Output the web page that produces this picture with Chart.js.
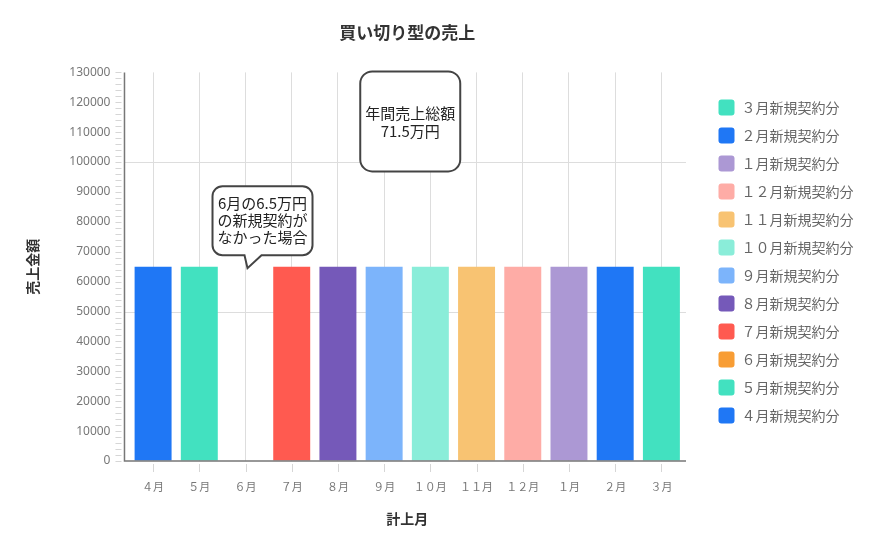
<!DOCTYPE html>
<html>
<head>
<meta charset="utf-8">
<script src="https://cdn.jsdelivr.net/npm/chart.js@4.4.1/dist/chart.umd.min.js"></script>
<style>
  html, body { margin: 0; padding: 0; background: #fff; }
  #wrap { width: 885px; height: 549px; }
</style>
</head>
<body>
<div id="wrap"><canvas id="salesChart"></canvas></div>
<script>
// data
const months = ["４月", "５月", "６月", "７月", "８月", "９月", "１０月", "１１月", "１２月", "１月", "２月", "３月"];
const sales = [65000, 65000, 0, 65000, 65000, 65000, 65000, 65000, 65000, 65000, 65000, 65000];
const seriesNames = months.map(m => m + "新規契約分");
const colors = ["#1f77f5", "#42e1c0", "#f89d34", "#ff5a50", "#7559b9", "#7cb4fb",
                "#8aedd9", "#f8c372", "#feaca6", "#ac98d4", "#1f77f5", "#42e1c0"];
const yTickStep = 2000;
const yLabelStep = 10000;
const yGridStep = 50000;

const FONT = "'Noto Sans', 'Noto Sans CJK JP', sans-serif";
const CJK = "'Noto Sans CJK JP', 'Noto Sans', sans-serif";
const AXIS_GAP = 5.5;   // y axis line sits a little left of the first slot

// one dataset per month, stacked so each bar fills its own slot
const datasets = months.map((m, i) => ({
  label: seriesNames[i],
  data: months.map((_, j) => (j === i ? sales[i] : null)),
  backgroundColor: colors[i],
  borderWidth: 0,
  barPercentage: 0.8,
  categoryPercentage: 1.0
}));

// axis lines + small tick marks drawn a few px away from the axes
const axisDecor = {
  id: "axisDecor",
  beforeDatasetsDraw(chart) {
    const { ctx, chartArea: a, scales: { y } } = chart;
    const x0 = a.left - AXIS_GAP;
    ctx.save();
    // stretch the visible grid lines to the shifted y axis
    ctx.strokeStyle = "#dddddd";
    ctx.lineWidth = 1;
    y.ticks.forEach(t => {
      if (t.value % yGridStep !== 0 || t.value === 0) return;
      const py = Math.round(y.getPixelForValue(t.value)) + 0.5;
      ctx.beginPath();
      ctx.moveTo(x0, py);
      ctx.lineTo(a.right + 1.5, py);
      ctx.stroke();
    });
    ctx.restore();
  },
  afterDraw(chart) {
    const { ctx, chartArea: a, scales: { x, y } } = chart;
    const x0 = a.left - AXIS_GAP;
    ctx.save();
    ctx.strokeStyle = "#777";
    ctx.lineWidth = 1.5;
    ctx.beginPath();
    ctx.moveTo(x0, a.top);
    ctx.lineTo(x0, a.bottom);
    ctx.lineTo(a.right + 1.5, a.bottom);
    ctx.stroke();

    ctx.strokeStyle = "#d6d6d6";
    ctx.lineWidth = 1;
    y.ticks.forEach(t => {
      const py = Math.round(y.getPixelForValue(t.value)) + 0.5;
      ctx.beginPath();
      ctx.moveTo(x0 - 9, py);
      ctx.lineTo(x0 - 3, py);
      ctx.stroke();
    });
    x.ticks.forEach((t, i) => {
      const px = Math.round(x.getPixelForTick(i)) + 0.5;
      ctx.beginPath();
      ctx.moveTo(px, a.bottom + 3);
      ctx.lineTo(px, a.bottom + 11);
      ctx.stroke();
    });
    ctx.restore();
  }
};

function roundBox(ctx, l, t, r, b, rad, tail) {
  ctx.beginPath();
  ctx.moveTo(l + rad, t);
  ctx.lineTo(r - rad, t);
  ctx.arcTo(r, t, r, t + rad, rad);
  ctx.lineTo(r, b - rad);
  ctx.arcTo(r, b, r - rad, b, rad);
  if (tail) {
    ctx.lineTo(tail.right, b);
    ctx.lineTo(tail.tipX, tail.tipY);
    ctx.lineTo(tail.left, b);
  }
  ctx.lineTo(l + rad, b);
  ctx.arcTo(l, b, l, b - rad, rad);
  ctx.lineTo(l, t + rad);
  ctx.arcTo(l, t, l + rad, t, rad);
  ctx.closePath();
  ctx.fillStyle = "#fff";
  ctx.fill();
  ctx.strokeStyle = "#444";
  ctx.lineWidth = 2;
  ctx.stroke();
}

function boxText(ctx, lines, cx, cy, lh) {
  ctx.fillStyle = "#222";
  ctx.font = "15px " + CJK;
  ctx.textAlign = "center";
  ctx.textBaseline = "middle";
  const y0 = cy - (lines.length - 1) * lh / 2;
  lines.forEach((s, i) => ctx.fillText(s, cx, y0 + i * lh));
}

// speech bubbles
const bubbles = {
  id: "bubbles",
  afterDatasetsDraw(chart) {
    const { ctx, scales: { x, y } } = chart;
    ctx.save();

    // missing June bubble, pointing at the empty slot
    const tipX = x.getPixelForTick(2) + 2;
    const tipY = y.getPixelForValue(64500);
    const b1 = { l: tipX - 35, r: tipX + 65, t: tipY - 82, b: tipY - 13 };
    roundBox(ctx, b1.l, b1.t, b1.r, b1.b, 10, { left: tipX - 3, right: tipX + 14, tipX: tipX, tipY: tipY });
    boxText(ctx, ["6月の6.5万円", "の新規契約が", "なかった場合"], (b1.l + b1.r) / 2, (b1.t + b1.b) / 2, 17);

    // annual total
    const cx = (x.getPixelForTick(5) + x.getPixelForTick(6)) / 2 + 3;
    const top = y.getPixelForValue(130000) - 1;
    roundBox(ctx, cx - 50, top, cx + 50, top + 100, 12, null);
    boxText(ctx, ["年間売上総額", "71.5万円"], cx, top + 51, 18);

    ctx.restore();
  }
};

// push legend items away from the plot a bit
const legendGap = {
  id: "legendGap",
  afterInit(chart) {
    const lg = chart.legend;
    const fit = lg.fit;
    lg.fit = function () { fit.call(this); this.width += 22; };
  },
  afterLayout(chart) {
    const lg = chart.legend;
    lg.left += 22;
    lg.right += 22;
    lg.top -= 6;
    lg.bottom -= 6;
  }
};

const ctx = document.getElementById("salesChart").getContext("2d");

new Chart(ctx, {
  type: "bar",
  data: { labels: months, datasets: datasets },
  plugins: [axisDecor, bubbles, legendGap],
  options: {
    responsive: true,
    maintainAspectRatio: false,
    animation: false,
    layout: { padding: { left: 0, right: 21.5, top: 0, bottom: 14 } },
    scales: {
      x: {
        stacked: true,
        grid: { offset: false, color: "#dddddd", drawTicks: false },
        border: { display: false },
        ticks: { color: "#777", font: { family: CJK, size: 11 }, padding: 19, maxRotation: 0, minRotation: 0 },
        title: { display: true, text: "計上月", color: "#333",
                 font: { family: CJK, size: 14, weight: "bold" }, padding: { top: 18, bottom: 8 } },
        afterFit: s => { s.height -= 20; }
      },
      y: {
        stacked: true,
        min: 0,
        max: 130000,
        grid: { drawTicks: false, color: "rgba(0,0,0,0)" },
        border: { display: false },
        ticks: {
          stepSize: yTickStep,
          autoSkip: false,
          maxTicksLimit: 1000,
          color: "#777",
          padding: 19.5,
          font: { family: FONT, size: 12 },
          callback: v => (v % yLabelStep === 0 ? String(v) : "")
        },
        title: { display: true, text: "売上金額", color: "#333",
                 font: { family: CJK, size: 14, weight: "bold" }, padding: { top: 24, bottom: 9 } }
      }
    },
    plugins: {
      title: {
        display: true,
        fullSize: false,
        text: "買い切り型の売上",
        color: "#333",
        font: { family: CJK, size: 17, weight: "bold" },
        padding: { top: 22, bottom: 30 }
      },
      legend: {
        position: "right",
        reverse: true,
        labels: {
          boxWidth: 16,
          boxHeight: 16,
          padding: 12,
          useBorderRadius: true,
          borderRadius: 3,
          color: "#666",
          font: { family: CJK, size: 14 }
        }
      },
      tooltip: { enabled: false }
    }
  }
});
</script>
</body>
</html>
